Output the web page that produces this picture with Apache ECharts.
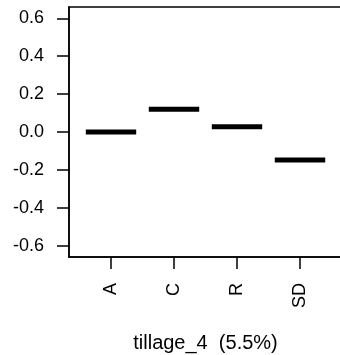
<!DOCTYPE html>
<html>
<head>
<meta charset="utf-8">
<script src="https://cdn.jsdelivr.net/npm/echarts@6/dist/echarts.min.js"></script>
<style>
html,body{margin:0;padding:0;background:#fff;}
#chart{width:340px;height:355px;}
</style>
</head>
<body>
<div id="chart"></div>
<script>
var categories = ['A', 'C', 'R', 'SD'];
var values = [0.0, 0.12, 0.028, -0.148];
var yTicks = [-0.6, -0.4, -0.2, 0.0, 0.2, 0.4, 0.6];
var xTitle = 'tillage_4  (5.5%)';

var chart = echarts.init(document.getElementById('chart'), null, {renderer: 'canvas'});
var font = '"Liberation Sans", Arial, sans-serif';
var segData = values.map(function (v, i) { return [i + 1, v]; });

chart.setOption({
  animation: false,
  backgroundColor: '#ffffff',
  grid: {
    left: 69, right: -2, top: 7, bottom: 98,
    outerBoundsMode: 'none',
    containLabel: false,
    show: true, borderColor: '#000', borderWidth: 1.5, backgroundColor: 'transparent'
  },
  xAxis: {
    type: 'value',
    min: 1 / 3,
    max: 14 / 3,
    splitLine: {show: false},
    axisLine: {show: true, onZero: false, lineStyle: {color: '#000', width: 1.5}},
    axisTick: {show: true, length: 12, lineStyle: {color: '#000', width: 1.5}, customValues: [1, 2, 3, 4]},
    axisLabel: {
      show: true, rotate: 90, margin: 26, fontSize: 18, color: '#000', fontFamily: font,
      customValues: [1, 2, 3, 4],
      formatter: function (v) { return categories[Math.round(v) - 1] || ''; }
    },
    name: xTitle,
    nameLocation: 'middle',
    nameGap: 76,
    nameTextStyle: {fontSize: 20, color: '#000', fontFamily: font}
  },
  yAxis: {
    type: 'value',
    min: -0.66,
    max: 0.66,
    splitLine: {show: false},
    axisLine: {show: true, onZero: false, lineStyle: {color: '#000', width: 1.5}},
    axisTick: {show: true, length: 12, lineStyle: {color: '#000', width: 1.5}, customValues: yTicks},
    axisLabel: {
      show: true, margin: 25, fontSize: 18, color: '#000', fontFamily: font,
      customValues: yTicks,
      formatter: function (v) { return v.toFixed(1); }
    }
  },
  series: [{
    type: 'custom',
    data: segData,
    renderItem: function (params, api) {
      var x = api.value(0), y = api.value(1);
      var p1 = api.coord([x - 0.4, y]);
      var p2 = api.coord([x + 0.4, y]);
      return {
        type: 'line',
        shape: {x1: p1[0], y1: p1[1], x2: p2[0], y2: p2[1]},
        style: {stroke: '#000', lineWidth: 5, lineCap: 'butt'}
      };
    }
  }]
});
</script>
</body>
</html>
